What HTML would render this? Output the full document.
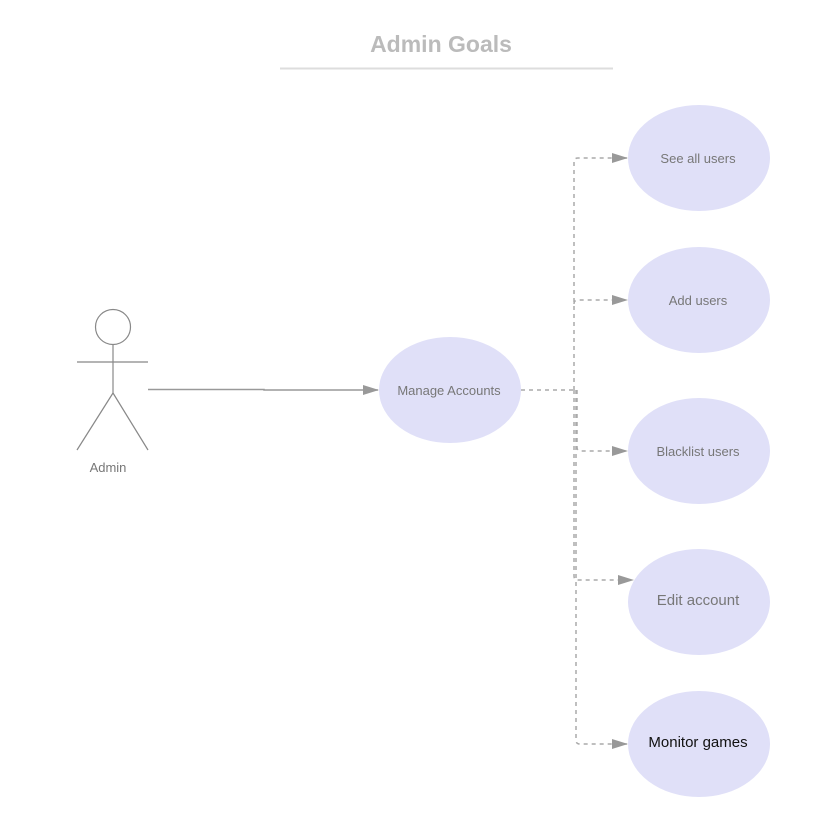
<!DOCTYPE html>
<html><head><meta charset="utf-8"><style>
html,body{margin:0;padding:0;background:#fff;}
svg{display:block;}
text{font-family:"Liberation Sans",sans-serif;}
</style></head><body>
<svg width="822" height="814" viewBox="0 0 822 814" xmlns="http://www.w3.org/2000/svg">
<defs>
<marker id="a" markerWidth="16" markerHeight="10" refX="15" refY="5" orient="auto" markerUnits="userSpaceOnUse">
<path d="M0,0 L16,5 L0,10 Z" fill="#999"/>
</marker>
</defs>
<text x="441" y="52" text-anchor="middle" font-size="23" font-weight="bold" fill="#bbb">Admin Goals</text>
<line x1="280" y1="68.5" x2="613" y2="68.5" stroke="#ddd" stroke-width="2"/>

<g stroke="#888" stroke-width="1.2" fill="none">
<circle cx="113" cy="327" r="17.5" fill="#fff"/>
<line x1="113" y1="345" x2="113" y2="393"/>
<line x1="77" y1="362" x2="148" y2="362"/>
<line x1="113" y1="393" x2="77" y2="450"/>
<line x1="113" y1="393" x2="148" y2="450"/>
</g>
<text x="108" y="472" text-anchor="middle" font-size="13" fill="#777">Admin</text>
<path d="M148,389.5 L264,389.5 L264,390 L378,390" stroke="#999" stroke-width="1.5" fill="none" marker-end="url(#a)"/>

<g stroke="#aaa" stroke-width="1.5" fill="none" stroke-dasharray="4,4">
<path d="M521,390 L574,390"/>
<path d="M574,390 L574,162 Q574,158 578,158 L627,158" marker-end="url(#a)"/>
<path d="M574,304 Q574,300 578,300 L627,300" marker-end="url(#a)"/>
<path d="M577,390 L577,447 Q577,451 581,451 L627,451" marker-end="url(#a)"/>
<path d="M574,390 L574,576 Q574,580 578,580 L633,580" marker-end="url(#a)"/>
<path d="M576,390 L576,740 Q576,744 580,744 L627,744" marker-end="url(#a)"/>
</g>

<g fill="#e0e0f8">
<ellipse cx="450" cy="390" rx="71" ry="53"/>
<ellipse cx="699" cy="158" rx="71" ry="53"/>
<ellipse cx="699" cy="300" rx="71" ry="53"/>
<ellipse cx="699" cy="451" rx="71" ry="53"/>
<ellipse cx="699" cy="602" rx="71" ry="53"/>
<ellipse cx="699" cy="744" rx="71" ry="53"/>
</g>
<g text-anchor="middle" font-size="13" fill="#777">
<text x="449" y="395">Manage Accounts</text>
<text x="698" y="163">See all users</text>
<text x="698" y="305">Add users</text>
<text x="698" y="456">Blacklist users</text>
<text x="698" y="605" font-size="15">Edit account</text>
<text x="698" y="747" font-size="15" fill="#111">Monitor games</text>
</g>
</svg>
</body></html>
